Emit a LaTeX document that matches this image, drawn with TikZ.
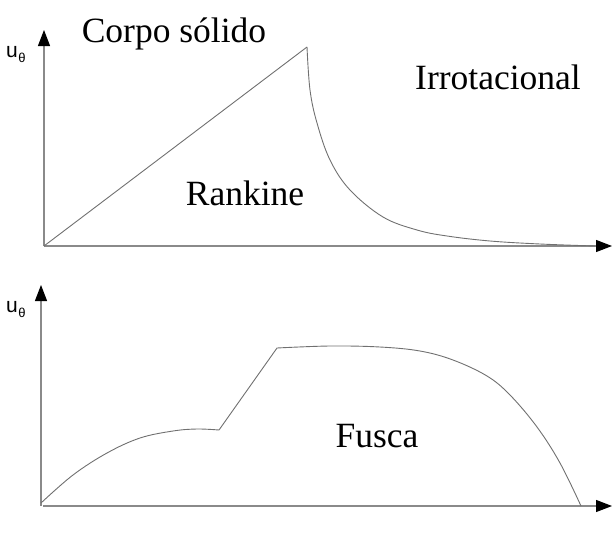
\documentclass[tikz,border=0pt]{standalone}
\usepackage{fontspec}
\setmainfont{Liberation Serif}
\newfontfamily\axfont{Liberation Sans}
\usetikzlibrary{arrows.meta}
\definecolor{axgray}{HTML}{8A8A8A}
\definecolor{cvgray}{HTML}{707070}
\newcommand{\utheta}{u\kern0.5pt\raisebox{-5pt}{\fontsize{13}{14}\selectfont θ}}
\tikzset{
  axis/.style={draw=axgray,line width=1.1pt,-{Triangle[length=16pt,width=12pt,color=black]}},
  curve/.style={draw=cvgray,line width=0.9pt,line join=round},
  lab/.style={anchor=base,inner sep=0pt,font=\fontsize{35.5}{40}\selectfont},
  ulab/.style={anchor=base west,inner sep=0pt,font=\axfont\fontsize{21}{22}\selectfont}
}
\begin{document}
\begin{tikzpicture}[x=1pt,y=-1pt]
\useasboundingbox (0,0) rectangle (612,546);
% top axes
\coordinate (o1) at (44,246);
\coordinate (y1) at (44,30);
\coordinate (x1) at (612,246);
\draw[axis] (o1) -- (y1);
\draw[axis] (o1) -- (x1);
% bottom axes
\coordinate (o2) at (41,506);
\coordinate (y2) at (41,285);
\coordinate (x2s) at (43,506);
\coordinate (x2) at (612,506);
\draw[axis] (o2) -- (y2);
\draw[axis] (x2s) -- (x2);
% Rankine profile
\coordinate (pk) at (307,47);
\draw[curve] (o1) -- (pk);
\draw[curve] plot[smooth,tension=0.6] coordinates {(307,47) (310,90) (317,123) (330,160) (350,190) (383,217) (417,230) (447,236) (490,241) (540,244) (595,246)};
% Fusca profile
\draw[curve] plot[smooth,tension=0.6] coordinates {(41,503) (73,475) (107,453) (140,438) (173,431) (197,429) (219,430)};
\coordinate (c1) at (219,430);
\coordinate (c2) at (277,348);
\draw[curve] (c1) -- (c2);
\draw[curve] plot[smooth,tension=0.6] coordinates {(277,348) (330,346) (380,347) (420,351) (453,360) (487,376) (510,395) (537,427) (560,463) (581,506)};
% labels
\node[lab] (t1) at (174,42) {Corpo sólido};
\node[lab] (t2) at (498,89) {Irrotacional};
\node[lab] (t3) at (245,205) {Rankine};
\node[lab] (t4) at (377,447) {Fusca};
\node[ulab] (u1) at (6,57) {\utheta};
\node[ulab] (u2) at (6,312) {\utheta};
\end{tikzpicture}
\end{document}
